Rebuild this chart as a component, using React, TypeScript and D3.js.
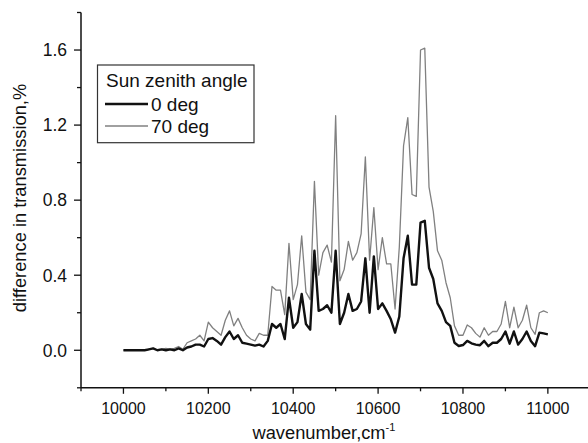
import React from "react";
import * as d3 from "d3";

const wavenumbers: number[] = d3.range(10000, 11001, 10);

const deg0: number[] = [
  0, 0, 0, 0, 0, 0, 0.005, 0.01, 0, 0.005,
  0, 0.005, 0, 0.01, 0, 0.015, 0.02, 0.03, 0.03, 0.02,
  0.06, 0.065, 0.05, 0.03, 0.07, 0.1, 0.06, 0.08, 0.04, 0.035,
  0.03, 0.025, 0.03, 0.02, 0.05, 0.14, 0.12, 0.14, 0.06, 0.28,
  0.12, 0.15, 0.3, 0.14, 0.11, 0.53, 0.21, 0.22, 0.24, 0.2,
  0.53, 0.14, 0.2, 0.3, 0.21, 0.22, 0.26, 0.49, 0.2, 0.5,
  0.22, 0.25, 0.21, 0.165, 0.094, 0.18, 0.49, 0.61, 0.35, 0.35,
  0.68, 0.69, 0.44, 0.38, 0.25, 0.21, 0.15, 0.13, 0.04, 0.023,
  0.028, 0.05, 0.037, 0.03, 0.027, 0.05, 0.022, 0.04, 0.04, 0.06,
  0.1, 0.035, 0.1, 0.03, 0.06, 0.1, 0.05, 0.022, 0.094, 0.09,
  0.085,
];

const deg70: number[] = [
  0, 0, 0, 0, 0, 0, 0.005, 0.01, 0, 0.005,
  0.01, 0.005, 0.01, 0.02, 0.005, 0.04, 0.05, 0.06, 0.08, 0.05,
  0.15, 0.12, 0.1, 0.08, 0.16, 0.21, 0.13, 0.17, 0.12, 0.08,
  0.06, 0.05, 0.09, 0.08, 0.08, 0.34, 0.32, 0.32, 0.19, 0.57,
  0.27, 0.35, 0.61, 0.31, 0.27, 0.9, 0.4, 0.52, 0.56, 0.47,
  1.25, 0.37, 0.43, 0.58, 0.48, 0.52, 0.62, 1.03, 0.48, 0.76,
  0.43, 0.6, 0.46, 0.46, 0.22, 0.55, 1.09, 1.24, 0.83, 0.82,
  1.6, 1.61, 0.87, 0.74, 0.53, 0.48, 0.36, 0.28, 0.13, 0.08,
  0.08, 0.135, 0.12, 0.09, 0.07, 0.12, 0.08, 0.1, 0.1, 0.14,
  0.26, 0.12, 0.23, 0.12, 0.16, 0.24, 0.12, 0.085, 0.2, 0.21,
  0.2,
];

const xMajorTicks: number[] = [10000, 10200, 10400, 10600, 10800, 11000];
const xMinorTicks: number[] = [9900, 10100, 10300, 10500, 10700, 10900, 11100];
const yMajorTicks: number[] = [0, 0.4, 0.8, 1.2, 1.6];
const yMinorTicks: number[] = [-0.2, 0.2, 0.6, 1.0, 1.4, 1.8];

const legendTitle = "Sun zenith angle";
const seriesNames: string[] = ["0 deg", "70 deg"];

const W = 588;
const H = 443;
const FONT = "Liberation Sans, Arial, sans-serif";

export default function App() {
  const x = d3.scaleLinear().domain([9900, 11100]).range([81, 590.3]);
  const y = d3.scaleLinear().domain([-0.2, 1.8]).range([387.8, 12.5]);

  const line = d3
    .line<number>()
    .x((_, i) => x(wavenumbers[i]))
    .y((d) => y(d));

  const series = [
    { name: seriesNames[0], data: deg0, color: "#111", width: 2.4 },
    { name: seriesNames[1], data: deg70, color: "#808080", width: 1.3 },
  ];

  const x0 = x.range()[0];
  const y0 = y.range()[0];

  return (
    <svg
      width={W}
      height={H}
      style={{ position: "absolute", left: 0, top: 0, background: "#fff" }}
      fontFamily={FONT}
    >
      <rect width={W} height={H} fill="#fff" />
      {series
        .slice()
        .reverse()
        .map((s) => (
          <path
            key={s.name}
            d={line(s.data) || ""}
            fill="none"
            stroke={s.color}
            strokeWidth={s.width}
            strokeLinejoin="round"
          />
        ))}
      {/* y axis */}
      <line x1={x0} x2={x0} y1={y(1.8)} y2={y0} stroke="#111" strokeWidth={1.5} />
      {yMajorTicks.map((t) => (
        <g key={"ym" + t}>
          <line x1={x0 - 7} x2={x0} y1={y(t)} y2={y(t)} stroke="#111" strokeWidth={1.3} />
          <text x={67} y={y(t)} dy="0.36em" textAnchor="end" fontSize={17.5} fill="#111">
            {d3.format(".1f")(t)}
          </text>
        </g>
      ))}
      {yMinorTicks.map((t) => (
        <line key={"yn" + t} x1={x0 - 4} x2={x0} y1={y(t)} y2={y(t)} stroke="#111" strokeWidth={1.3} />
      ))}
      {/* x axis */}
      <line x1={x0} x2={W} y1={y0} y2={y0} stroke="#111" strokeWidth={1.5} />
      {xMajorTicks.map((t) => (
        <g key={"xm" + t}>
          <line x1={x(t)} x2={x(t)} y1={y0} y2={y0 + 6} stroke="#111" strokeWidth={1.3} />
          <text x={x(t)} y={413.5} textAnchor="middle" fontSize={16} fill="#111">
            {t}
          </text>
        </g>
      ))}
      {xMinorTicks.map((t) => (
        <line key={"xn" + t} x1={x(t)} x2={x(t)} y1={y0} y2={y0 + 3.5} stroke="#111" strokeWidth={1.3} />
      ))}
      {/* axis titles */}
      <text x={252.5} y={439.3} textAnchor="start" fontSize={18.3} fill="#111">
        wavenumber,cm
        <tspan dy={-8} fontSize={11}>-1</tspan>
      </text>
      <text
        transform={`translate(26,198) rotate(-90)`}
        textAnchor="middle"
        fontSize={18.3}
        fill="#111"
      >
        difference in transmission,%
      </text>
      {/* legend */}
      <rect x={97.5} y={65} width={156.5} height={77.7} fill="#fff" stroke="#333" strokeWidth={1.2} />
      <text x={106} y={87.3} fontSize={19} fill="#111">
        {legendTitle}
      </text>
      {series.map((s, i) => (
        <g key={"lg" + s.name}>
          <line x1={105} x2={148} y1={104 + i * 22} y2={104 + i * 22} stroke={s.color} strokeWidth={s.width} />
          <text x={151} y={111 + i * 21.7} fontSize={19} fill="#111">
            {s.name}
          </text>
        </g>
      ))}
    </svg>
  );
}
